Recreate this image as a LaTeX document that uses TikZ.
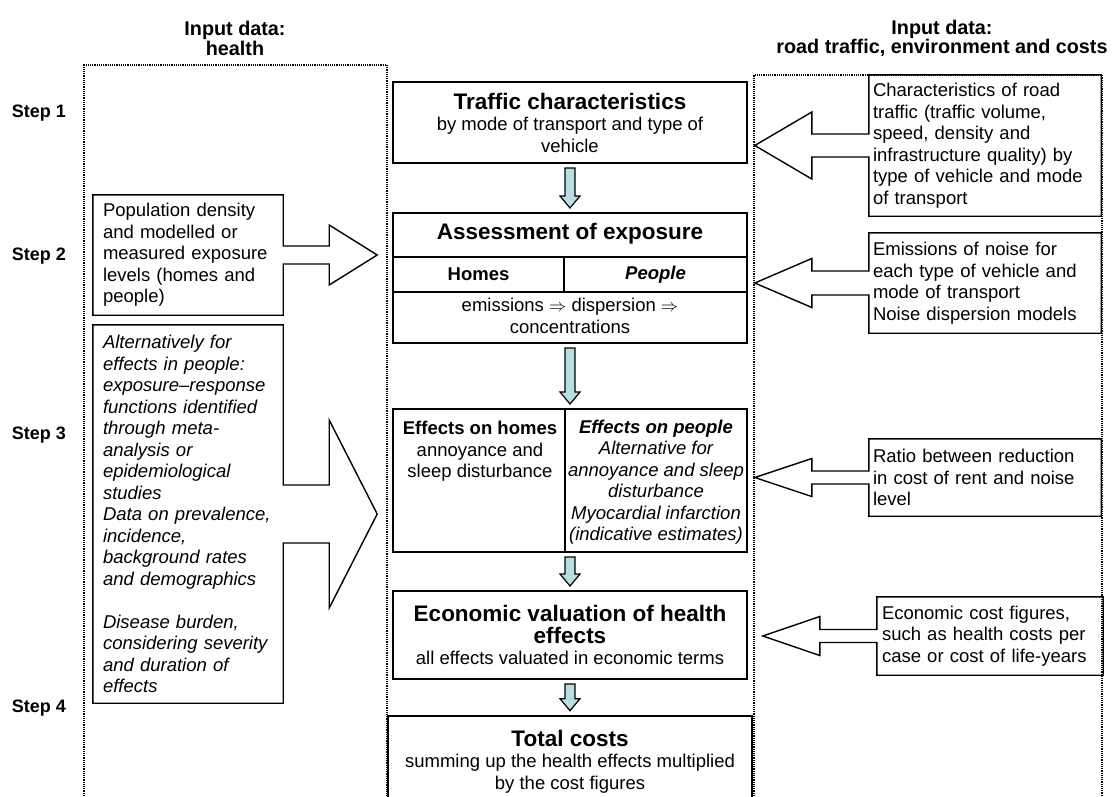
\documentclass[tikz,border=0pt]{standalone}
\usepackage{fontspec}
\setmainfont{Liberation Sans}
\usetikzlibrary{calc}
\definecolor{arrowblue}{RGB}{183,222,224}
\newcommand{\boxtitle}{\fontsize{22.5}{25}\selectfont\bfseries}

\begin{document}
\begin{tikzpicture}[x=1pt, y=-1pt,
    bodyfont/.style={font=\fontsize{18.5}{21.5}\selectfont},
    header/.style={font=\fontsize{19.8}{17}\selectfont\bfseries, align=center, inner sep=0pt},
    steplabel/.style={font=\fontsize{18}{21}\selectfont\bfseries, inner sep=0pt},
    mainbox/.style={draw, line width=2pt, inner sep=0pt, align=center, bodyfont, minimum width=354},
    cellbox/.style={draw, line width=2pt, inner sep=0pt, bodyfont, minimum height=35},
    plaintext/.style={inner sep=0pt, align=center, bodyfont},
    leftin/.style={text width=170, inner xsep=10pt, inner ysep=0pt, align=left, bodyfont},
    rightin/.style={text width=224, inner xsep=4pt, inner ysep=0pt, align=left, bodyfont},
    callout/.style={line width=1.4pt, line join=miter},
    column/.style={densely dotted, line width=1.2pt},
    downarrow/.style={draw, line width=1.2pt, fill=arrowblue}]
  \useasboundingbox (0,0) rectangle (1112,796);
  \clip (0,0) rectangle (1112,796);

  \draw [column] (84,796) -- (84,65) -- (387,65) -- (387,796);
  \draw [column] (754,796) -- (754,75) -- (1102,75) -- (1102,796);
  \node [header] (hdrhealth) at (235,38.5) {Input data:\\health};
  \node [header] (hdrtraffic) at (942,38.5) {Input data:\\road traffic, environment and costs};
  \foreach \n/\y in {1/113, 2/256, 3/435, 4/708}
    \node [steplabel] (step\n) at (39,\y) {Step \n};

  \node [mainbox, minimum height=81] (traffic) at (570,122.5)
    {{\boxtitle Traffic characteristics}\\by mode of transport and type of\\vehicle};

  \node [mainbox, minimum height=130] (assess) at (570,278) {};
  \node [plaintext, font=\boxtitle] (assesstitle) at (570,234) {Assessment of exposure};
  \node [cellbox, minimum width=171, font=\fontsize{18.5}{21.5}\selectfont\bfseries] (homes) at (478.5,274.5) {Homes};
  \node [cellbox, minimum width=183, font=\fontsize{18.5}{21.5}\selectfont\bfseries\itshape] (people) at (655.5,274.5) {People};
  \node [plaintext] (dispersion) at (570,316)
    {emissions $\Rightarrow$ dispersion $\Rightarrow$\\concentrations};

  \node [mainbox, minimum height=143] (effects) at (570,480.5) {};
  \draw [line width=2pt] (565,409) -- (565,552);
  \node [plaintext, anchor=north] (onhomes) at (480,421)
    {\textbf{Effects on homes}\\annoyance and\\sleep disturbance};
  \node [plaintext, font=\fontsize{18.5}{21.5}\selectfont\itshape] (onpeople) at (656,482)
    {\textbf{Effects on people}\\Alternative for\\annoyance and sleep\\disturbance\\Myocardial infarction\\(indicative estimates)};

  \node [mainbox, minimum height=88] (econ) at (570,635)
    {{\boxtitle Economic valuation of health}\\{\boxtitle effects}\\all effects valuated in economic terms};

  \node [mainbox, line width=2.6pt, minimum width=364, minimum height=91] (total) at (570,761.5)
    {{\boxtitle Total costs}\\summing up the health effects multiplied\\by the cost figures};

  \foreach \from/\to in {traffic/assess, assess/effects, effects/econ, econ/total}
    \draw [downarrow] ($(\from.south)+(-5,4)$) -- ($(\from.south)+(5,4)$) -- ($(\to.north)+(5,-16)$)
      -- ($(\to.north)+(10,-16)$) -- ($(\to.north)+(0,-4)$) -- ($(\to.north)+(-10,-16)$)
      -- ($(\to.north)+(-5,-16)$) -- cycle;

  \node [leftin, minimum height=120] (popdensity) at (188,255)
    {Population density\\and modelled or\\measured exposure\\levels (homes and\\people)};
  \node [leftin, minimum height=378, font=\fontsize{18.5}{21.5}\selectfont\itshape] (exposresp) at (188,514)
    {Alternatively for\\effects in people:\\exposure–response\\functions identified\\through meta-\\analysis or\\epidemiological\\studies\\Data on prevalence,\\incidence,\\background rates\\and demographics\\[21.5pt]Disease burden,\\considering severity\\and duration of\\effects};
  \foreach \nm/\sh/\hh in {popdensity/9/30, exposresp/29/94}
    \draw [callout] (\nm.north east) -- ($(\nm.east)+(0,-\sh)$) -- ($(\nm.east)+(46,-\sh)$)
      -- ($(\nm.east)+(46,-\hh)$) -- ($(\nm.east)+(94,0)$) -- ($(\nm.east)+(46,\hh)$)
      -- ($(\nm.east)+(46,\sh)$) -- ($(\nm.east)+(0,\sh)$) -- (\nm.south east)
      -- (\nm.south west) -- (\nm.north west) -- cycle;

  \node [rightin, minimum height=141] (roadtraffic) at (985,145.5)
    {Characteristics of road\\traffic (traffic volume,\\speed, density and\\infrastructure quality) by\\type of vehicle and mode\\of transport};
  \node [rightin, minimum height=100] (emissions) at (985,283)
    {Emissions of noise for\\each type of vehicle and\\mode of transport\\Noise dispersion models};
  \node [rightin, minimum height=77] (rentratio) at (985,477.5)
    {Ratio between reduction\\in cost of rent and noise\\level};
  \node [rightin, text width=216, inner xsep=5pt, minimum height=78] (costfigures) at (990,636)
    {Economic cost figures,\\such as health costs per\\case or cost of life-years};
  \foreach \nm/\sh/\hh in {roadtraffic/11.5/33.5, emissions/12/24.5, rentratio/6.5/19, costfigures/6.5/19.5}
    \draw [callout] (\nm.north west) -- (\nm.north east) -- (\nm.south east) -- (\nm.south west)
      -- ($(\nm.west)+(0,\sh)$) -- ($(\nm.west)+(-57,\sh)$) -- ($(\nm.west)+(-57,\hh)$)
      -- ($(\nm.west)+(-114,0)$) -- ($(\nm.west)+(-57,-\hh)$) -- ($(\nm.west)+(-57,-\sh)$)
      -- ($(\nm.west)+(0,-\sh)$) -- cycle;
\end{tikzpicture}
\end{document}
